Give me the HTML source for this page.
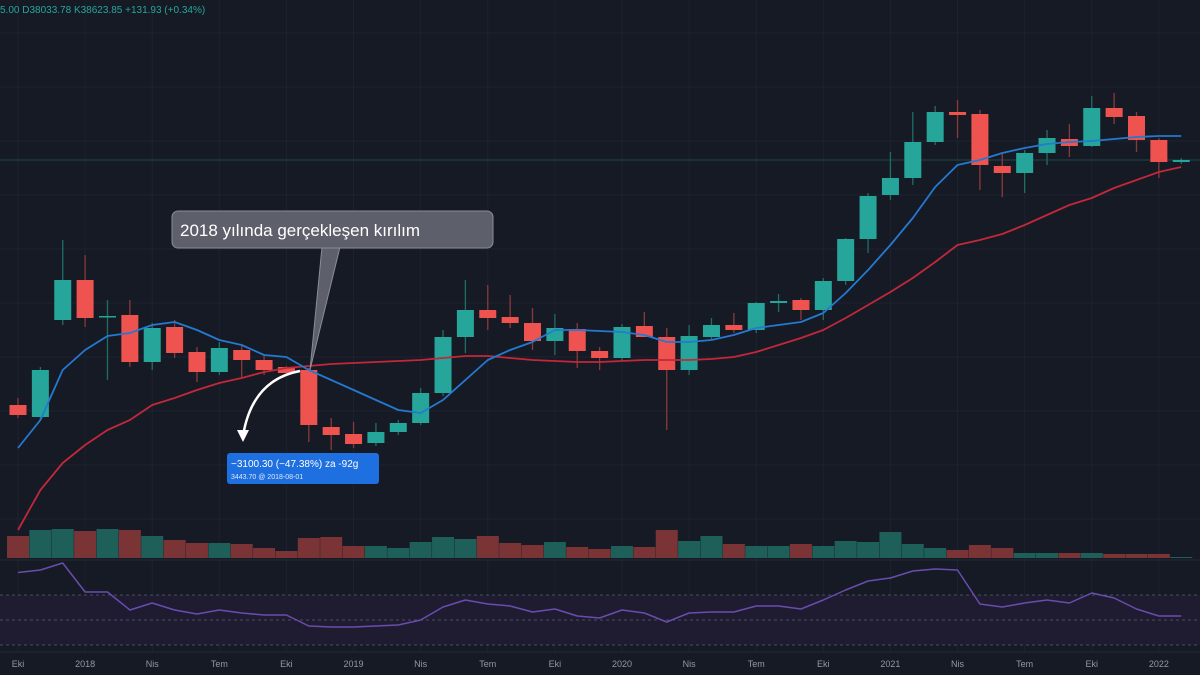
<!DOCTYPE html>
<html><head><meta charset="utf-8">
<style>
html,body{margin:0;padding:0;background:#161a25;}
svg{display:block;font-family:"Liberation Sans",sans-serif;}
</style></head>
<body>
<svg id="chart" width="1200" height="675" viewBox="0 0 1200 675" xmlns="http://www.w3.org/2000/svg">
<rect x="0" y="0" width="1200" height="675" fill="#161a25"/>
<g id="grid"></g>
<line x1="0" y1="160" x2="1200" y2="160" stroke="#1f4a48" stroke-width="1"/>
<g id="rsiBg"></g>
<g id="vol"></g>
<g id="candles"></g>
<g id="mas"></g>
<g id="rsi"></g>
<g id="xaxis"></g>
<text x="0" y="13" font-size="10" fill="#26a69a">5.00 D38033.78 K38623.85 +131.93 (+0.34%)</text>

<g>
<path d="M322 247 L310 370 L340 247 Z" fill="#5d606b" stroke="#8a8d96" stroke-width="1"/>
<rect x="172" y="211" width="321" height="37" rx="6" fill="#5d606b" stroke="#8a8d96" stroke-width="1"/>
<text x="180" y="236" font-size="17" fill="#ffffff">2018 yılında gerçekleşen kırılım</text>
</g>

<g>
<path d="M300 371 Q252 380 243 436" fill="none" stroke="#ffffff" stroke-width="2.5"/>
<path d="M237 430 L249 430 L243 442 Z" fill="#ffffff"/>
<rect x="227" y="453" width="152" height="31" rx="3" fill="#1e6fe0"/>
<text x="231" y="467" font-size="10" fill="#ffffff">−3100.30 (−47.38%) za -92g</text>
<text x="231" y="479" font-size="7" fill="#dfe8fb">3443.70 @ 2018-08-01</text>
</g>
</svg>
<script>
// candle values (chart units) : open, high, low, close
const opens  = [115,103,200,240,203,205,158,193,168,148,170,160,153,150,93,86,77,88,97,127,183,210,203,197,179,191,169,162,194,183,150,183,195,190,217,220,210,239,281,325,342,378,408,406,354,347,367,381,374,412,404,380,358];
const highs  = [122,153,280,265,220,220,197,200,173,178,175,165,154,152,102,98,97,100,132,190,240,235,225,212,206,197,173,196,208,192,195,202,207,218,226,222,242,282,327,368,408,414,420,410,367,370,390,396,424,427,408,382,362];
const lows   = [102,100,195,193,140,153,150,162,138,145,142,145,145,78,70,72,74,85,95,124,167,190,192,170,165,152,150,159,183,90,145,180,187,187,208,200,200,235,267,320,335,375,382,330,323,327,355,363,373,396,368,342,356];
const closes = [105,150,240,202,204,158,192,167,148,172,160,150,147,95,85,76,88,97,127,183,210,202,197,179,192,169,162,193,183,150,184,195,190,217,219,210,239,281,324,342,378,408,405,355,347,367,382,374,412,403,380,358,360];
const maFast = [72,100,150,170,184,187,195,198,190,180,175,165,163,150,140,130,120,110,107,120,140,160,170,178,190,190,189,188,185,178,178,180,185,192,195,198,207,227,250,275,302,333,355,360,367,372,376,378,379,381,383,384,384];
const maSlow = [-10,30,57,75,90,100,115,122,130,137,142,148,152,154,156,157,158,159,160,162,164,164,162,160,159,158,158,159,160,160,160,161,163,168,175,182,190,202,215,228,242,258,275,280,286,295,305,315,322,332,340,348,353];
const volumes = [22,28,29,27,29,28,22,18,15,15,14,10,7,20,21,12,12,10,16,21,19,22,15,13,16,11,9,12,11,28,17,22,14,12,12,14,12,17,16,26,14,10,8,13,10,5,5,5,5,4,4,4,1];
const rsiVals = [88,90,95.6,72.4,72.4,58,63.6,58,54.8,58,55.6,54,54,45.2,44.4,44.4,45.2,46,50,60.4,66,62.8,61.2,56.4,58.8,53.2,51.6,58,55.6,48.4,55.6,56.4,56.4,61.2,61.2,58.8,66,74,81.2,83.6,89.2,90.8,90,62.8,60.4,63.6,66,63.6,71.6,67.6,58.8,53.2,53.2];
const tickLabels = ["Eki","2018","Nis","Tem","Eki","2019","Nis","Tem","Eki","2020","Nis","Tem","Eki","2021","Nis","Tem","Eki","2022"];
const tickIdx = [0,3,6,9,12,15,18,21,24,27,30,33,36,39,42,45,48,51];

const NS="http://www.w3.org/2000/svg";
const X0=18, DX=22.37;
function xScale(i){return X0+i*DX;}
function yPrice(v){return 520-v;}
function yVol(v){return 558-v;}
function yRsi(v){return 595+(70-v)*1.25;}
function mk(tag,attrs,parent){const e=document.createElementNS(NS,tag);for(const k in attrs)e.setAttribute(k,attrs[k]);parent.appendChild(e);return e;}

const grid=document.getElementById('grid');
for(let k=0;k<tickIdx.length;k++){
  const l=mk('line',{x1:xScale(tickIdx[k]),x2:xScale(tickIdx[k]),y1:0,y2:652,stroke:'#1e2230','stroke-width':1},grid);
  
  
}
for(let y=33;y<520;y+=54){
  const l=mk('line',{x1:0,x2:1200,y1:y,y2:y,stroke:'#1e2230','stroke-width':1},grid);
  
  
}
const sep=mk('line',{x1:0,x2:1200,y1:560,y2:560,stroke:'#252a38','stroke-width':1},grid);


const sep2=mk('line',{x1:0,x2:1200,y1:652,y2:652,stroke:'#252a38','stroke-width':1},grid);



const rb=document.getElementById('rsiBg');
const band=mk('rect',{x:0,y:yRsi(70),width:1200,height:yRsi(30)-yRsi(70),fill:'#1f1c31'},rb);


[70,50,30].forEach(v=>{
  const l=mk('line',{x1:0,x2:1200,y1:yRsi(v),y2:yRsi(v),stroke:'#4a4e5c','stroke-width':1,'stroke-dasharray':'3,3'},rb);
  
  
});

const vg=document.getElementById('vol');
const cg=document.getElementById('candles');
for(let i=0;i<opens.length;i++){
  const up=closes[i]>=opens[i];
  const x=xScale(i);
  const vb=mk('rect',{x:x-11,y:yVol(volumes[i]),width:22,height:volumes[i],fill:up?'#1e5f59':'#7b3436'},vg);
  
  
  const col=up?'#26a69a':'#ef5350';
  const w=mk('line',{x1:x,x2:x,y1:yPrice(highs[i]),y2:yPrice(lows[i]),stroke:up?'#1f6e66':'#8a3a3a','stroke-width':1.3},cg);
  
  
  const top=yPrice(Math.max(opens[i],closes[i])),bot=yPrice(Math.min(opens[i],closes[i]));
  const b=mk('rect',{x:x-8.5,y:top,width:17,height:Math.max(1.5,bot-top),fill:col},cg);
  
  
}
function line(arr,fy,color,name,parent,w){
  let d='';
  arr.forEach((v,i)=>{d+=(i?'L':'M')+xScale(i).toFixed(1)+' '+fy(v).toFixed(1)+' ';});
  const p=mk('path',{d:d,fill:'none',stroke:color,'stroke-width':w,'stroke-linejoin':'round'},parent);
  
  
}
const mg=document.getElementById('mas');
line(maSlow,yPrice,'#c2283a','ma-slow-line',mg,1.8);
line(maFast,yPrice,'#2479d0','ma-fast-line',mg,1.8);
line(rsiVals,yRsi,'#6a4cad','rsi-line-path',document.getElementById('rsi'),1.5);

const xa=document.getElementById('xaxis');
for(let k=0;k<tickLabels.length;k++){
  const t=mk('text',{x:xScale(tickIdx[k]),y:667,'font-size':9,fill:'#9598a1','text-anchor':'middle'},xa);
  t.textContent=tickLabels[k];
  
  
}
</script>
</body></html>
